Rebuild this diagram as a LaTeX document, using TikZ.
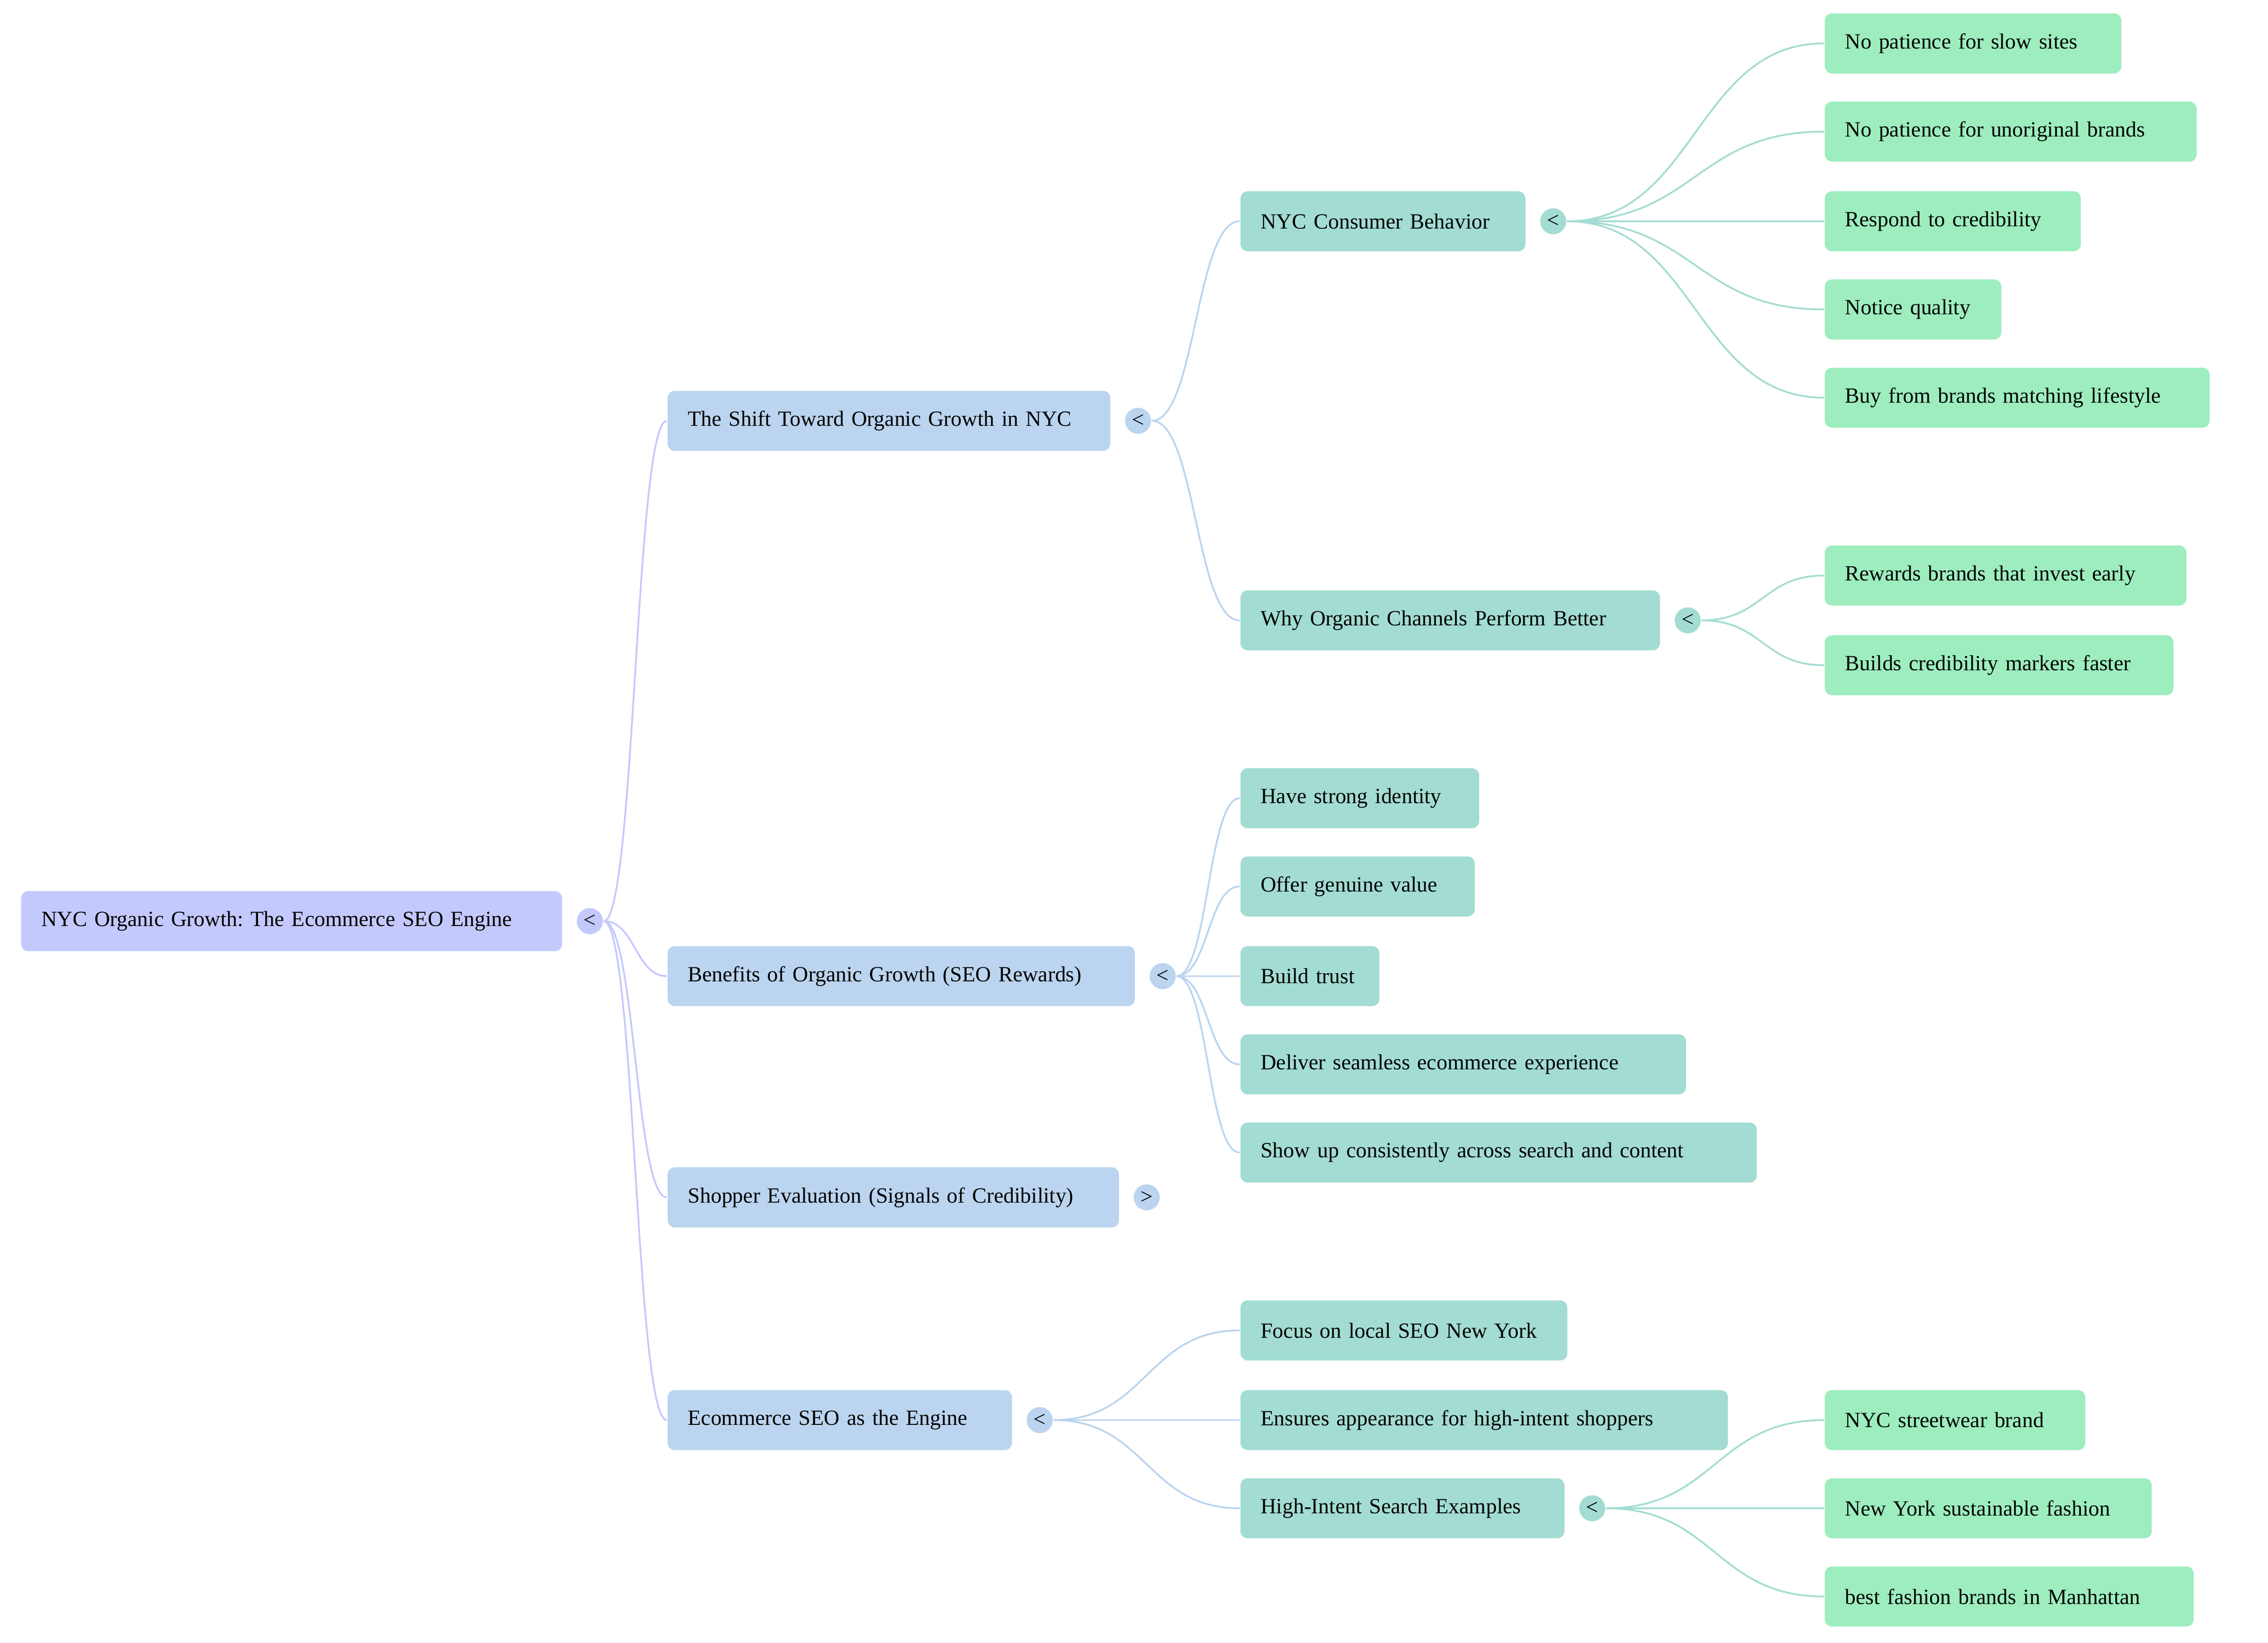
\documentclass[tikz,border=0pt]{standalone}
\usepackage{fontspec}
\setmainfont{Liberation Serif}
\usetikzlibrary{positioning, calc}
\tikzset{every picture/.style={line width=1.2bp}}
\definecolor{mm-root}{RGB}{196,201,253}
\definecolor{mm-blue}{RGB}{187,212,239}
\definecolor{mm-teal}{RGB}{163,220,210}
\definecolor{mm-green}{RGB}{157,237,190}
\frenchspacing

\begin{document}
\begin{tikzpicture}
    [x=1bp, y=-1bp,
    box/.style = {rectangle, rounded corners=5bp, anchor=west, align=left,
            inner xsep=14bp, inner ysep=0pt, minimum height=41.5bp,
            font=\fontsize{15bp}{18bp}\selectfont, text width=#1},
    knob/.style = {circle, inner sep=0pt, minimum size=18bp,
            font=\fontsize{15bp}{15bp}\selectfont},
    branch/.style = {to path={let \p1=(\tikztostart), \p2=(\tikztotarget) in
            .. controls ({(\x1+\x2)/2},\y1) and ({(\x1+\x2)/2},\y2) .. (\tikztotarget)}},
    ]
    \useasboundingbox (0,0) rectangle (1568,1136);

	\node[box=346bp, fill=mm-root] (root) at (14, 637) {NYC Organic Growth: The Ecommerce SEO Engine};
	\node[knob, fill=mm-root, right=9bp of root] (root-k) {<};

	% first level
	\node[box=278bp, fill=mm-blue] (shift) at (461, 291) {The Shift Toward Organic Growth in NYC};
	\node[knob, fill=mm-blue, right=9bp of shift] (shift-k) {<};
	\node[box=295bp, fill=mm-blue] (benefits) at (461, 675) {Benefits of Organic Growth (SEO Rewards)};
	\node[knob, fill=mm-blue, right=9bp of benefits] (benefits-k) {<};
	\node[box=284bp, fill=mm-blue] (shopper) at (461, 828) {Shopper Evaluation (Signals of Credibility)};
	\node[knob, fill=mm-blue, right=9bp of shopper] (shopper-k) {>};
	\node[box=210bp, fill=mm-blue] (engine) at (461, 982) {Ecommerce SEO as the Engine};
	\node[knob, fill=mm-blue, right=9bp of engine] (engine-k) {<};

	% second level
	\node[box=169bp, fill=mm-teal] (consumer) at (857, 153) {NYC Consumer Behavior};
	\node[knob, fill=mm-teal, right=9bp of consumer] (consumer-k) {<};
	\node[box=262bp, fill=mm-teal] (channels) at (857, 429) {Why Organic Channels Perform Better};
	\node[knob, fill=mm-teal, right=9bp of channels] (channels-k) {<};

	\node[box=137bp, fill=mm-teal] (identity) at (857, 552) {Have strong identity};
	\node[box=134bp, fill=mm-teal] (value) at (857, 613) {Offer genuine value};
	\node[box=68bp, fill=mm-teal] (trust) at (857, 675) {Build trust};
	\node[box=280bp, fill=mm-teal] (seamless) at (857, 736) {Deliver seamless ecommerce experience};
	\node[box=329bp, fill=mm-teal] (consistent) at (857, 797) {Show up consistently across search and content};

	\node[box=198bp, fill=mm-teal] (local) at (857, 920) {Focus on local SEO New York};
	\node[box=309bp, fill=mm-teal] (appearance) at (857, 982) {Ensures appearance for high-intent shoppers};
	\node[box=196bp, fill=mm-teal] (examples) at (857, 1043) {High-Intent Search Examples};
	\node[knob, fill=mm-teal, right=9bp of examples] (examples-k) {<};

	% third level
	\node[box=177bp, fill=mm-green] (slow) at (1261, 30) {No patience for slow sites};
	\node[box=229bp, fill=mm-green] (unoriginal) at (1261, 91) {No patience for unoriginal brands};
	\node[box=149bp, fill=mm-green] (credibility) at (1261, 153) {Respond to credibility};
	\node[box=94bp, fill=mm-green] (quality) at (1261, 214) {Notice quality};
	\node[box=238bp, fill=mm-green] (lifestyle) at (1261, 275) {Buy from brands matching lifestyle};
	\node[box=222bp, fill=mm-green] (invest) at (1261, 398) {Rewards brands that invest early};
	\node[box=213bp, fill=mm-green] (markers) at (1261, 460) {Builds credibility markers faster};
	\node[box=152bp, fill=mm-green] (streetwear) at (1261, 982) {NYC streetwear brand};
	\node[box=198bp, fill=mm-green] (sustainable) at (1261, 1043) {New York sustainable fashion};
	\node[box=227bp, fill=mm-green] (manhattan) at (1261, 1104) {best fashion brands in Manhattan};

	\foreach \child in {shift, benefits, shopper, engine}
		\draw[mm-root, branch] (root-k.east) to (\child.west);
	\foreach \child in {consumer, channels}
		\draw[mm-blue, branch] (shift-k.east) to (\child.west);
	\foreach \child in {identity, value, trust, seamless, consistent}
		\draw[mm-blue, branch] (benefits-k.east) to (\child.west);
	\foreach \child in {local, appearance, examples}
		\draw[mm-blue, branch] (engine-k.east) to (\child.west);
	\foreach \child in {slow, unoriginal, credibility, quality, lifestyle}
		\draw[mm-teal, branch] (consumer-k.east) to (\child.west);
	\foreach \child in {invest, markers}
		\draw[mm-teal, branch] (channels-k.east) to (\child.west);
	\foreach \child in {streetwear, sustainable, manhattan}
		\draw[mm-teal, branch] (examples-k.east) to (\child.west);
\end{tikzpicture}
\end{document}
